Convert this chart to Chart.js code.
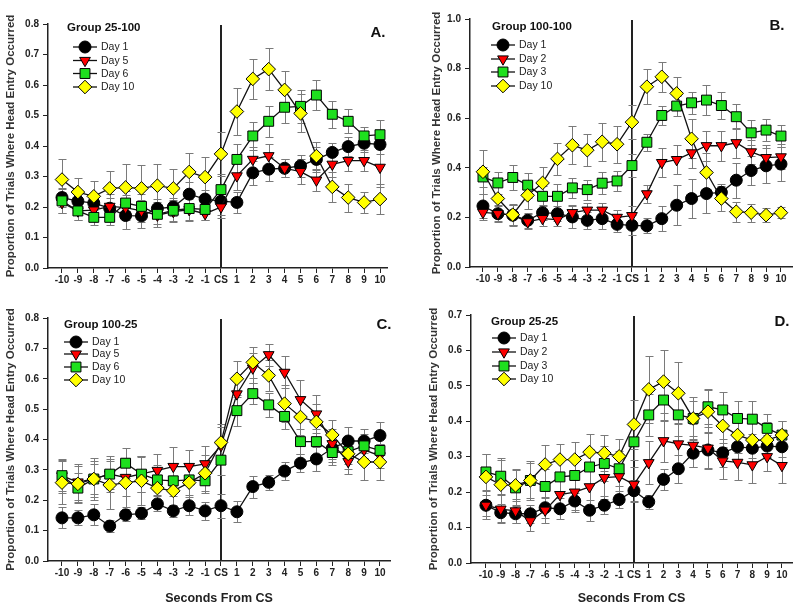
<!DOCTYPE html>
<html><head><meta charset="utf-8">
<script src="https://cdn.jsdelivr.net/npm/chart.js@4.4.1/dist/chart.umd.min.js"></script>
<style>
html,body{margin:0;padding:0;background:#fff;width:800px;height:609px;overflow:hidden;position:relative}
canvas{position:absolute}
</style></head><body>
<canvas id="cA" style="left:0px;top:0px;width:400px;height:300px" width="400" height="300"></canvas>
<canvas id="cB" style="left:426px;top:0px;width:374px;height:300px" width="374" height="300"></canvas>
<canvas id="cC" style="left:0px;top:300px;width:400px;height:309px" width="400" height="309"></canvas>
<canvas id="cD" style="left:423px;top:300px;width:377px;height:309px" width="377" height="309"></canvas>
<script>
// ---------- DATA ----------
const categories = ['-10','-9','-8','-7','-6','-5','-4','-3','-2','-1','CS','1','2','3','4','5','6','7','8','9','10'];
const positions  = [-10,-9,-8,-7,-6,-5,-4,-3,-2,-1,0,1,2,3,4,5,6,7,8,9,10];

// Panel A: Group 25-100
const aLabels = ['Day 1','Day 5','Day 6','Day 10'];
const aDay1  = [0.231,0.219,0.213,0.196,0.172,0.171,0.195,0.200,0.242,0.226,0.219,0.215,0.312,0.324,0.327,0.335,0.356,0.379,0.398,0.409,0.405];
const aDay1E = [0.030,0.030,0.030,0.035,0.045,0.040,0.030,0.030,0.040,0.030,0.045,0.035,0.040,0.040,0.030,0.035,0.040,0.030,0.030,0.030,0.030];
const aDay5  = [0.214,0.187,0.190,0.202,0.198,0.187,0.173,0.185,0.191,0.178,0.200,0.302,0.356,0.368,0.327,0.316,0.288,0.340,0.352,0.352,0.330];
const aDay5E = [0.035,0.030,0.030,0.040,0.040,0.035,0.030,0.035,0.035,0.020,0.035,0.045,0.040,0.040,0.030,0.040,0.035,0.040,0.035,0.035,0.065];
const aDay6  = [0.220,0.187,0.166,0.166,0.213,0.202,0.176,0.189,0.195,0.192,0.257,0.356,0.433,0.481,0.527,0.530,0.567,0.504,0.481,0.433,0.437];
const aDay6E = [0.040,0.030,0.025,0.025,0.040,0.040,0.040,0.035,0.040,0.035,0.050,0.050,0.047,0.050,0.050,0.054,0.050,0.044,0.040,0.030,0.048];
const aDay10 = [0.290,0.249,0.235,0.261,0.264,0.261,0.270,0.261,0.315,0.298,0.374,0.513,0.620,0.652,0.584,0.507,0.367,0.266,0.231,0.215,0.226];
const aDay10E= [0.067,0.047,0.050,0.057,0.078,0.078,0.072,0.063,0.063,0.066,0.071,0.077,0.065,0.069,0.062,0.062,0.045,0.050,0.046,0.035,0.050];

// Panel B: Group 100-100
const bLabels = ['Day 1','Day 2','Day 3','Day 10'];
const bDay1  = [0.246,0.215,0.209,0.188,0.219,0.215,0.202,0.188,0.195,0.172,0.168,0.166,0.195,0.249,0.276,0.296,0.301,0.350,0.389,0.408,0.415];
const bDay1E = [0.050,0.035,0.040,0.030,0.030,0.030,0.045,0.035,0.040,0.030,0.040,0.030,0.050,0.080,0.080,0.080,0.035,0.070,0.060,0.070,0.070];
const bDay2  = [0.220,0.215,0.209,0.182,0.195,0.191,0.219,0.229,0.229,0.200,0.207,0.295,0.421,0.433,0.460,0.489,0.489,0.501,0.464,0.441,0.444];
const bDay2E = [0.030,0.030,0.040,0.030,0.030,0.025,0.030,0.030,0.030,0.030,0.040,0.035,0.060,0.060,0.060,0.060,0.060,0.060,0.050,0.050,0.050];
const bDay3  = [0.363,0.339,0.361,0.330,0.285,0.285,0.319,0.312,0.338,0.347,0.409,0.503,0.611,0.649,0.662,0.673,0.651,0.606,0.541,0.552,0.528];
const bDay3E = [0.040,0.045,0.050,0.050,0.040,0.050,0.040,0.040,0.045,0.040,0.045,0.035,0.040,0.040,0.045,0.060,0.055,0.050,0.050,0.045,0.045];
const bDay10 = [0.384,0.276,0.211,0.289,0.339,0.436,0.491,0.471,0.505,0.495,0.584,0.727,0.767,0.700,0.517,0.381,0.276,0.223,0.219,0.209,0.219];
const bDay10E= [0.088,0.067,0.045,0.054,0.065,0.066,0.077,0.065,0.077,0.075,0.069,0.070,0.060,0.065,0.078,0.080,0.050,0.040,0.036,0.027,0.023];

// Panel C: Group 100-25
const cLabels = ['Day 1','Day 5','Day 6','Day 10'];
const cDay1  = [0.142,0.142,0.152,0.115,0.152,0.157,0.188,0.165,0.182,0.165,0.182,0.162,0.245,0.259,0.296,0.322,0.336,0.371,0.395,0.395,0.413];
const cDay1E = [0.035,0.025,0.035,0.020,0.020,0.020,0.025,0.020,0.030,0.030,0.040,0.035,0.036,0.025,0.030,0.030,0.040,0.045,0.045,0.040,0.043];
const cDay5  = [0.280,0.260,0.270,0.286,0.275,0.287,0.298,0.311,0.311,0.320,0.380,0.550,0.635,0.679,0.621,0.531,0.484,0.386,0.327,0.366,0.346];
const cDay5E = [0.055,0.060,0.060,0.060,0.060,0.060,0.055,0.065,0.055,0.060,0.060,0.050,0.050,0.036,0.053,0.064,0.064,0.050,0.040,0.040,0.040];
const cDay6  = [0.281,0.240,0.270,0.286,0.322,0.286,0.267,0.264,0.267,0.264,0.332,0.495,0.551,0.514,0.476,0.393,0.393,0.357,0.360,0.379,0.364];
const cDay6E = [0.050,0.050,0.050,0.050,0.050,0.060,0.050,0.050,0.050,0.040,0.050,0.050,0.035,0.040,0.040,0.040,0.040,0.040,0.040,0.040,0.040];
const cDay10 = [0.258,0.254,0.270,0.250,0.258,0.264,0.240,0.231,0.258,0.289,0.390,0.600,0.654,0.611,0.518,0.474,0.458,0.415,0.353,0.326,0.326];
const cDay10E= [0.070,0.060,0.070,0.080,0.080,0.080,0.060,0.050,0.060,0.060,0.060,0.060,0.050,0.050,0.060,0.060,0.060,0.050,0.050,0.060,0.060];

// Panel D: Group 25-25
const dLabels = ['Day 1','Day 2','Day 3','Day 10'];
const dDay1  = [0.163,0.142,0.139,0.139,0.156,0.153,0.175,0.149,0.163,0.179,0.204,0.173,0.236,0.266,0.310,0.319,0.311,0.328,0.324,0.330,0.328];
const dDay1E = [0.030,0.025,0.025,0.025,0.030,0.030,0.030,0.030,0.025,0.025,0.030,0.020,0.030,0.040,0.040,0.050,0.040,0.040,0.040,0.030,0.030];
const dDay2  = [0.163,0.152,0.147,0.119,0.149,0.193,0.200,0.215,0.241,0.244,0.222,0.283,0.345,0.336,0.332,0.324,0.288,0.284,0.277,0.300,0.275];
const dDay2E = [0.040,0.040,0.035,0.030,0.035,0.050,0.050,0.050,0.060,0.050,0.050,0.060,0.060,0.060,0.060,0.060,0.050,0.050,0.050,0.040,0.050];
const dDay3  = [0.257,0.245,0.212,0.233,0.216,0.243,0.247,0.271,0.281,0.266,0.342,0.418,0.460,0.418,0.408,0.441,0.432,0.408,0.406,0.380,0.361];
const dDay3E = [0.050,0.050,0.050,0.050,0.050,0.050,0.050,0.050,0.050,0.050,0.050,0.060,0.060,0.060,0.050,0.050,0.050,0.050,0.050,0.040,0.040];
const dDay10 = [0.243,0.221,0.219,0.233,0.278,0.292,0.292,0.313,0.310,0.301,0.391,0.490,0.512,0.479,0.408,0.427,0.387,0.361,0.347,0.347,0.361];
const dDay10E= [0.065,0.070,0.045,0.055,0.055,0.045,0.050,0.050,0.050,0.050,0.070,0.094,0.090,0.088,0.060,0.060,0.060,0.050,0.050,0.050,0.040];

// ---------- STYLES ----------
const FONT = "'Liberation Sans', Arial, Helvetica, sans-serif";
const markerStyles = [
  {pointStyle:'circle',  radius:6,   fill:'#000000', rotation:0,   order:3},
  {pointStyle:'triangle',radius:6.2, fill:'#ff0000', rotation:180, order:2},
  {pointStyle:'rect',    radius:7,   fill:'#1ee01e', rotation:0,   order:1},
  {pointStyle:'rectRot', radius:6.8, fill:'#ffff00', rotation:0,   order:0}
];

// ---------- PLUGINS ----------
const decorPlugin = {
  id: 'decor',
  beforeDatasetsDraw(chart, args, opts) {
    const ctx = chart.ctx, xs = chart.scales.x, ys = chart.scales.y, ca = chart.chartArea;
    ctx.save();
    const xc = Math.round(xs.getPixelForValue(0));
    ctx.strokeStyle = '#222'; ctx.lineWidth = 2;
    ctx.beginPath(); ctx.moveTo(xc, ca.top + 1); ctx.lineTo(xc, ca.bottom); ctx.stroke();
    ctx.strokeStyle = '#7a7a7a'; ctx.lineWidth = 1;
    chart.data.datasets.forEach((ds, di) => {
      const meta = chart.getDatasetMeta(di);
      meta.data.forEach((pt, i) => {
        const v = ds.data[i].y, e = ds.errors[i];
        const yt = Math.round(ys.getPixelForValue(v + e)) + 0.5;
        const yb = Math.round(ys.getPixelForValue(v - e)) + 0.5;
        const x = Math.round(pt.x) + 0.5;
        ctx.beginPath();
        ctx.moveTo(x, yt); ctx.lineTo(x, yb);
        ctx.moveTo(x - 4, yt); ctx.lineTo(x + 4, yt);
        ctx.moveTo(x - 4, yb); ctx.lineTo(x + 4, yb);
        ctx.stroke();
      });
    });
    ctx.restore();
  },
  afterDraw(chart, args, opts) {
    const ctx = chart.ctx, ca = chart.chartArea;
    ctx.save();
    ctx.fillStyle = '#111';
    ctx.font = 'bold 11.5px ' + FONT;
    ctx.textBaseline = 'middle'; ctx.textAlign = 'left';
    ctx.fillText(opts.group, ca.left + opts.titleX, ca.top + opts.titleY);
    chart.data.datasets.forEach((ds, i) => {
      const y = ca.top + opts.rowY[i];
      const mx = ca.left + opts.markX;
      ctx.strokeStyle = '#111'; ctx.lineWidth = 1.3;
      ctx.beginPath(); ctx.moveTo(mx - 12, y); ctx.lineTo(mx + 12, y); ctx.stroke();
      ctx.fillStyle = ds.pointBackgroundColor; ctx.strokeStyle = '#000'; ctx.lineWidth = 1;
      Chart.helpers.drawPoint(ctx, {pointStyle: ds.pointStyle, rotation: ds.pointRotation, radius: ds.pointRadius, borderWidth: 1}, mx, y);
      ctx.fillStyle = '#222';
      ctx.font = '10.5px ' + FONT;
      ctx.fillText(ds.label, mx + 16, y + 0.5);
    });
    ctx.fillStyle = '#111';
    ctx.font = 'bold 15px ' + FONT;
    ctx.textAlign = 'center';
    ctx.fillText(opts.letter, ca.right + opts.letterX, ca.top + opts.letterY);
    ctx.restore();
  }
};

function buildPanel(id, p) {
  const datasets = p.series.map((s, i) => {
    const st = markerStyles[i];
    return {
      label: p.labels[i],
      data: positions.map((x, j) => ({x: x, y: s[j]})),
      errors: p.errors[i],
      borderColor: '#111', borderWidth: 1.3, tension: 0, fill: false,
      pointStyle: st.pointStyle, pointRadius: st.radius, pointRotation: st.rotation,
      pointBackgroundColor: st.fill, pointBorderColor: '#000', pointBorderWidth: 1,
      order: st.order
    };
  });
  return new Chart(document.getElementById(id), {
    type: 'line',
    data: {datasets},
    plugins: [decorPlugin],
    options: {
      responsive: false, animation: false, events: [],
      layout: {padding: {top: p.padTop, right: p.padRight, bottom: 0, left: 0}},
      plugins: {legend: {display: false}, tooltip: {enabled: false}, decor: p.decor},
      scales: {
        x: {
          type: 'linear', min: p.xMin, max: p.xMax,
          afterBuildTicks: (axis) => { axis.ticks = positions.map(v => ({value: v})); },
          afterFit: (s) => { s.height = p.xHeight; },
          ticks: {autoSkip: false, maxRotation: 0, padding: 1, color: '#222',
                  font: {family: FONT, size: 10, weight: 'bold'},
                  callback: (v) => categories[positions.indexOf(v)]},
          grid: {drawOnChartArea: false, drawTicks: true, tickLength: 5, color: '#222', lineWidth: 1},
          border: {color: '#222', width: 1.5},
          title: {display: p.xTitle, text: 'Seconds From CS', color: '#222', padding: {top: 4, bottom: 3},
                  font: {family: FONT, size: 12.5, weight: 'bold'}}
        },
        y: {
          min: 0, max: p.yMax,
          afterFit: (s) => { s.width = p.yWidth; },
          ticks: {stepSize: p.yStep, padding: 4, color: '#222',
                  font: {family: FONT, size: 10, weight: 'bold'},
                  callback: (v) => v.toFixed(1)},
          grid: {drawOnChartArea: false, drawTicks: true, tickLength: 5, color: '#222', lineWidth: 1},
          border: {color: '#222', width: 1.5},
          title: {display: true, text: 'Proportion of Trials Where Head Entry Occurred', color: '#333',
                  padding: {top: 4, bottom: 4}, font: {family: FONT, size: 11.5, weight: 'bold'}}
        }
      }
    }
  });
}

buildPanel('cA', {
  labels: aLabels, series: [aDay1, aDay5, aDay6, aDay10], errors: [aDay1E, aDay5E, aDay6E, aDay10E],
  padTop: 24, padRight: 13, yWidth: 48, xHeight: 32, xMin: -10.88, xMax: 10.44, yMax: 0.8, yStep: 0.1, xTitle: false,
  decor: {group: 'Group 25-100', titleX: 19, titleY: 4, markX: 37, rowY: [23, 36.5, 49.5, 63], letter: 'A.', letterX: -9, letterY: 9}
});
buildPanel('cB', {
  labels: bLabels, series: [bDay1, bDay2, bDay3, bDay10], errors: [bDay1E, bDay2E, bDay3E, bDay10E],
  padTop: 19, padRight: 8, yWidth: 44, xHeight: 33, xMin: -10.87, xMax: 10.74, yMax: 1.0, yStep: 0.2, xTitle: false,
  decor: {group: 'Group 100-100', titleX: 22, titleY: 8, markX: 33, rowY: [26, 40, 53, 67], letter: 'B.', letterX: -15, letterY: 7}
});
buildPanel('cC', {
  labels: cLabels, series: [cDay1, cDay5, cDay6, cDay10], errors: [cDay1E, cDay5E, cDay6E, cDay10E],
  padTop: 18, padRight: 10, yWidth: 48, xHeight: 48, xMin: -10.88, xMax: 10.63, yMax: 0.8, yStep: 0.1, xTitle: true,
  decor: {group: 'Group 100-25', titleX: 16, titleY: 7, markX: 28, rowY: [24, 36, 49, 62], letter: 'C.', letterX: -6, letterY: 7}
});
buildPanel('cD', {
  labels: dLabels, series: [dDay1, dDay2, dDay3, dDay10], errors: [dDay1E, dDay2E, dDay3E, dDay10E],
  padTop: 15, padRight: 8, yWidth: 48, xHeight: 46, xMin: -11.01, xMax: 10.68, yMax: 0.7, yStep: 0.1, xTitle: true,
  decor: {group: 'Group 25-25', titleX: 20, titleY: 7, markX: 33, rowY: [23, 37, 51, 64], letter: 'D.', letterX: -10, letterY: 7}
});
</script>
</body></html>
